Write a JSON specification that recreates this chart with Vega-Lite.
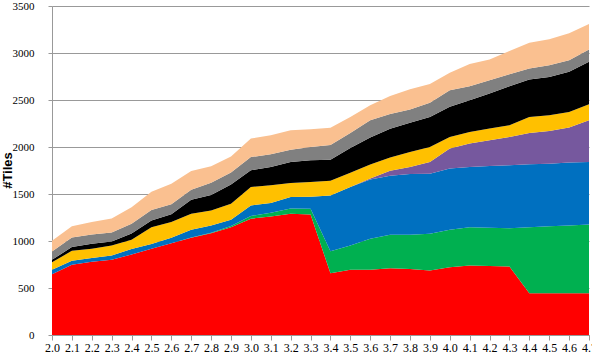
{
  "$schema": "https://vega.github.io/schema/vega-lite/v6.json",
  "width": 537,
  "height": 329,
  "autosize": "none",
  "padding": {"left": 52, "top": 6, "right": 3, "bottom": 21},
  "background": "white",
  "config": {"view": {"stroke": null}, "font": "Liberation Sans Narrow"},
  "data": {"values": [
    {"v": "2.0", "s1": 645, "s2": 0, "s3": 48, "s4": 0, "s5": 81, "s6": 26, "s7": 88, "s8": 115},
    {"v": "2.1", "s1": 748, "s2": 0, "s3": 42, "s4": 0, "s5": 105, "s6": 40, "s7": 103, "s8": 120},
    {"v": "2.2", "s1": 780, "s2": 0, "s3": 40, "s4": 0, "s5": 97, "s6": 53, "s7": 98, "s8": 133},
    {"v": "2.3", "s1": 800, "s2": 0, "s3": 45, "s4": 0, "s5": 107, "s6": 43, "s7": 95, "s8": 150},
    {"v": "2.4", "s1": 856, "s2": 0, "s3": 59, "s4": 0, "s5": 98, "s6": 67, "s7": 103, "s8": 177},
    {"v": "2.5", "s1": 917, "s2": 0, "s3": 51, "s4": 0, "s5": 179, "s6": 71, "s7": 112, "s8": 195},
    {"v": "2.6", "s1": 977, "s2": 0, "s3": 57, "s4": 0, "s5": 167, "s6": 84, "s7": 105, "s8": 220},
    {"v": "2.7", "s1": 1034, "s2": 2, "s3": 83, "s4": 0, "s5": 171, "s6": 150, "s7": 105, "s8": 200},
    {"v": "2.8", "s1": 1083, "s2": 5, "s3": 77, "s4": 0, "s5": 160, "s6": 165, "s7": 130, "s8": 175},
    {"v": "2.9", "s1": 1147, "s2": 12, "s3": 67, "s4": 0, "s5": 171, "s6": 203, "s7": 130, "s8": 170},
    {"v": "3.0", "s1": 1237, "s2": 30, "s3": 111, "s4": 0, "s5": 196, "s6": 178, "s7": 141, "s8": 197},
    {"v": "3.1", "s1": 1261, "s2": 40, "s3": 102, "s4": 0, "s5": 189, "s6": 195, "s7": 135, "s8": 203},
    {"v": "3.2", "s1": 1290, "s2": 55, "s3": 122, "s4": 0, "s5": 149, "s6": 224, "s7": 132, "s8": 206},
    {"v": "3.3", "s1": 1283, "s2": 60, "s3": 127, "s4": 0, "s5": 157, "s6": 231, "s7": 142, "s8": 190},
    {"v": "3.4", "s1": 657, "s2": 234, "s3": 594, "s4": 0, "s5": 155, "s6": 225, "s7": 155, "s8": 185},
    {"v": "3.5", "s1": 693, "s2": 259, "s3": 622, "s4": 0, "s5": 151, "s6": 265, "s7": 160, "s8": 170},
    {"v": "3.6", "s1": 693, "s2": 330, "s3": 632, "s4": 10, "s5": 150, "s6": 285, "s7": 185, "s8": 160},
    {"v": "3.7", "s1": 710, "s2": 356, "s3": 629, "s4": 53, "s5": 140, "s6": 307, "s7": 155, "s8": 192},
    {"v": "3.8", "s1": 703, "s2": 363, "s3": 646, "s4": 75, "s5": 160, "s6": 311, "s7": 142, "s8": 215},
    {"v": "3.9", "s1": 685, "s2": 392, "s3": 639, "s4": 124, "s5": 160, "s6": 320, "s7": 150, "s8": 200},
    {"v": "4.0", "s1": 721, "s2": 398, "s3": 651, "s4": 213, "s5": 124, "s6": 320, "s7": 178, "s8": 184},
    {"v": "4.1", "s1": 739, "s2": 408, "s3": 640, "s4": 249, "s5": 124, "s6": 338, "s7": 149, "s8": 235},
    {"v": "4.2", "s1": 735, "s2": 405, "s3": 658, "s4": 273, "s5": 125, "s6": 373, "s7": 142, "s8": 221},
    {"v": "4.3", "s1": 728, "s2": 408, "s3": 669, "s4": 302, "s5": 124, "s6": 416, "s7": 128, "s8": 245},
    {"v": "4.4", "s1": 444, "s2": 703, "s3": 669, "s4": 333, "s5": 171, "s6": 399, "s7": 117, "s8": 273},
    {"v": "4.5", "s1": 444, "s2": 714, "s3": 665, "s4": 348, "s5": 167, "s6": 408, "s7": 125, "s8": 274},
    {"v": "4.6", "s1": 444, "s2": 721, "s3": 669, "s4": 373, "s5": 166, "s6": 427, "s7": 124, "s8": 285},
    {"v": "4.7", "s1": 444, "s2": 732, "s3": 664, "s4": 444, "s5": 171, "s6": 452, "s7": 131, "s8": 270}
  ]},
  "transform": [
    {"fold": ["s1", "s2", "s3", "s4", "s5", "s6", "s7", "s8"], "as": ["series", "tiles"]}
  ],
  "mark": {"type": "area", "interpolate": "linear"},
  "encoding": {
    "x": {
      "field": "v", "type": "ordinal", "sort": null,
      "scale": {"type": "point", "padding": 0},
      "axis": {"title": null, "labelAngle": 0, "labelFontSize": 12, "labelColor": "#000000",
               "domainColor": "#999999", "tickColor": "#999999", "tickSize": 5, "labelPadding": 2, "grid": false}
    },
    "y": {
      "field": "tiles", "type": "quantitative", "stack": "zero",
      "scale": {"domain": [0, 3500], "nice": false},
      "axis": {"values": [0, 500, 1000, 1500, 2000, 2500, 3000, 3500], "format": "d",
               "title": "#Tiles", "titleFont": "Liberation Sans", "titleFontWeight": "bold", "titleFontSize": 13,
               "titleColor": "#000000", "titleX": -38, "titleY": 164, "titleAngle": -90,
               "labelFontSize": 11, "labelColor": "#000000", "labelPadding": 14,
               "gridColor": "#999999", "gridOpacity": 1, "domainColor": "#999999", "tickColor": "#999999", "tickSize": 4}
    },
    "color": {
      "field": "series", "type": "nominal",
      "scale": {"domain": ["s1", "s2", "s3", "s4", "s5", "s6", "s7", "s8"],
                "range": ["#ff0000", "#00b050", "#0070c0", "#76589e", "#ffc000", "#000000", "#808080", "#fac090"]},
      "legend": null
    },
    "order": {"field": "series", "sort": "ascending"}
  }
}
